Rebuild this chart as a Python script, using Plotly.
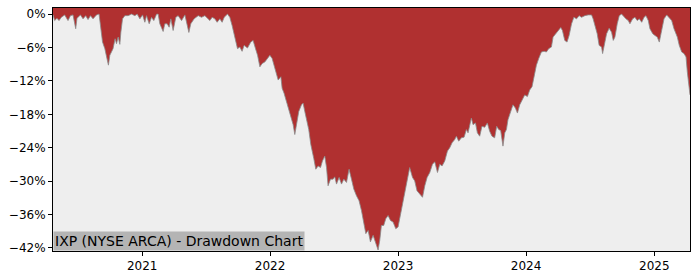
import pandas as pd
import plotly.graph_objects as go

# Drawdown series: decimal year, drawdown in percent
years = [
    2020.305, 2020.310, 2020.318, 2020.336, 2020.352, 2020.370, 2020.396, 2020.422, 2020.441, 2020.461,
    2020.482, 2020.492, 2020.519, 2020.539, 2020.560, 2020.578, 2020.597, 2020.617, 2020.644, 2020.664,
    2020.675, 2020.691, 2020.709, 2020.727, 2020.737, 2020.748, 2020.763, 2020.773, 2020.789, 2020.800,
    2020.813, 2020.826, 2020.834, 2020.847, 2020.865, 2020.891, 2020.917, 2020.943, 2020.961, 2020.982,
    2021.003, 2021.021, 2021.034, 2021.055, 2021.073, 2021.091, 2021.113, 2021.125, 2021.138, 2021.152,
    2021.164, 2021.177, 2021.195, 2021.211, 2021.224, 2021.242, 2021.263, 2021.281, 2021.308, 2021.334,
    2021.347, 2021.365, 2021.380, 2021.406, 2021.438, 2021.464, 2021.490, 2021.516, 2021.529, 2021.547,
    2021.568, 2021.586, 2021.607, 2021.625, 2021.641, 2021.667, 2021.685, 2021.703, 2021.724, 2021.745,
    2021.763, 2021.781, 2021.797, 2021.823, 2021.849, 2021.867, 2021.886, 2021.902, 2021.920, 2021.938,
    2021.959, 2021.980, 2021.998, 2022.016, 2022.031, 2022.050, 2022.063, 2022.084, 2022.094, 2022.109,
    2022.128, 2022.146, 2022.162, 2022.180, 2022.193, 2022.206, 2022.224, 2022.245, 2022.258, 2022.271,
    2022.284, 2022.302, 2022.318, 2022.331, 2022.341, 2022.357, 2022.375, 2022.394, 2022.409, 2022.427,
    2022.441, 2022.453, 2022.472, 2022.492, 2022.505, 2022.519, 2022.539, 2022.558, 2022.576, 2022.597,
    2022.617, 2022.636, 2022.654, 2022.675, 2022.695, 2022.714, 2022.732, 2022.748, 2022.766, 2022.784,
    2022.805, 2022.823, 2022.844, 2022.857, 2022.870, 2022.888, 2022.904, 2022.922, 2022.941, 2022.961,
    2022.982, 2023.000, 2023.013, 2023.034, 2023.052, 2023.070, 2023.091, 2023.113, 2023.130, 2023.148,
    2023.170, 2023.191, 2023.209, 2023.227, 2023.248, 2023.269, 2023.287, 2023.308, 2023.326, 2023.344,
    2023.365, 2023.386, 2023.404, 2023.422, 2023.443, 2023.456, 2023.474, 2023.495, 2023.516, 2023.534,
    2023.547, 2023.560, 2023.573, 2023.586, 2023.605, 2023.620, 2023.638, 2023.656, 2023.677, 2023.698,
    2023.716, 2023.734, 2023.755, 2023.771, 2023.787, 2023.802, 2023.820, 2023.834, 2023.847, 2023.859,
    2023.880, 2023.898, 2023.917, 2023.933, 2023.951, 2023.969, 2023.990, 2024.011, 2024.029, 2024.047,
    2024.063, 2024.081, 2024.099, 2024.120, 2024.141, 2024.159, 2024.177, 2024.198, 2024.211, 2024.230,
    2024.250, 2024.271, 2024.284, 2024.302, 2024.320, 2024.336, 2024.355, 2024.373, 2024.394, 2024.414,
    2024.433, 2024.459, 2024.484, 2024.511, 2024.523, 2024.537, 2024.555, 2024.570, 2024.589, 2024.597,
    2024.615, 2024.628, 2024.648, 2024.667, 2024.680, 2024.693, 2024.711, 2024.727, 2024.745, 2024.763,
    2024.779, 2024.797, 2024.810, 2024.831, 2024.849, 2024.867, 2024.883, 2024.902, 2024.920, 2024.935,
    2024.953, 2024.966, 2024.988, 2025.005, 2025.023, 2025.039, 2025.058, 2025.076, 2025.097, 2025.117,
    2025.136, 2025.154, 2025.170, 2025.180, 2025.195, 2025.214, 2025.232, 2025.248, 2025.258, 2025.269,
    2025.279,
]
drawdown = [
    -0.10, -0.57, -1.16, -0.75, -1.16, -0.57, -0.14, -1.16, -0.27, -0.14,
    -2.63, -0.75, -0.14, -0.85, -0.27, -0.98, -0.27, -0.85, -0.14, 0.00,
    -2.05, -5.02, -6.20, -8.28, -9.17, -7.39, -6.50, -6.20, -4.42, -5.31,
    -4.13, -5.43, -3.24, -0.85, -0.27, -0.27, 0.00, -0.27, 0.00, -0.85,
    -0.14, -1.46, -0.27, -1.74, -0.57, -1.16, 0.00, 0.00, -1.74, -2.35,
    -3.12, -1.74, -1.74, -2.35, -0.85, -2.94, -0.57, -0.27, -1.16, -0.14,
    -1.51, -3.29, -1.74, -0.85, -0.27, -0.57, -0.27, -0.75, -1.16, -0.57,
    -0.85, -1.46, -0.85, -1.46, -0.57, 0.00, -0.57, -2.05, -4.42, -6.20,
    -5.91, -6.68, -5.61, -6.09, -5.02, -4.72, -6.20, -7.39, -9.47, -8.87,
    -8.58, -7.98, -7.39, -7.98, -9.17, -10.36, -11.84, -11.25, -13.32, -14.21,
    -15.70, -17.48, -18.66, -19.85, -21.63, -19.55, -17.48, -16.29, -15.99, -17.48,
    -18.96, -20.74, -23.41, -25.19, -25.90, -27.86, -27.27, -27.56, -26.38, -25.49,
    -27.56, -30.83, -29.64, -29.64, -29.23, -30.53, -29.34, -30.53, -29.64, -30.23,
    -27.86, -29.64, -31.42, -32.62, -33.51, -35.29, -37.65, -39.43, -38.85, -40.91,
    -39.74, -40.91, -42.37, -40.63, -37.96, -37.96, -36.76, -36.18, -37.07, -37.35,
    -38.54, -38.24, -36.76, -34.09, -31.73, -29.64, -27.56, -29.34, -29.95, -31.73,
    -32.31, -32.90, -30.83, -29.34, -28.45, -26.97, -26.53, -28.45, -26.97, -27.27,
    -26.38, -24.60, -24.00, -23.11, -22.52, -21.93, -22.82, -22.22, -22.11, -20.74,
    -21.33, -19.85, -18.66, -19.85, -19.55, -21.33, -21.93, -20.15, -20.33, -19.55,
    -21.04, -21.93, -22.22, -20.15, -20.74, -20.92, -23.71, -21.33, -20.74, -18.96,
    -17.48, -16.29, -16.88, -17.77, -16.29, -15.40, -14.51, -14.81, -13.62, -13.03,
    -11.25, -9.17, -7.98, -6.80, -6.68, -6.80, -6.20, -5.91, -4.13, -3.53,
    -2.94, -2.40, -2.94, -4.72, -5.02, -3.83, -1.74, -0.57, -0.85, -0.27,
    -0.57, -0.27, -0.14, -0.14, -0.85, -2.05, -3.53, -5.61, -5.91, -7.09,
    -5.02, -3.53, -2.53, -3.24, -4.72, -4.13, -1.74, -0.27, 0.00, -0.57,
    -0.85, -1.16, -1.74, -0.85, -0.57, -1.16, -0.85, -1.46, -0.57, -0.27,
    -1.16, -2.63, -3.53, -3.83, -4.13, -5.02, -2.94, -0.85, -0.14, -0.57,
    -1.16, -2.63, -3.53, -4.13, -5.61, -6.80, -7.09, -7.69, -10.36, -12.73,
    -14.51,
]
y_ticks = [0, -6, -12, -18, -24, -30, -36, -42]
y_tick_labels = ["0%", "\u22126%", "\u221212%", "\u221218%", "\u221224%", "\u221230%", "\u221236%", "\u221242%"]
x_tick_years = [2021, 2022, 2023, 2024, 2025]
title_text = "IXP (NYSE ARCA) - Drawdown Chart"


def to_date(yr):
    y0 = int(yr)
    start = pd.Timestamp(year=y0, month=1, day=1)
    end = pd.Timestamp(year=y0 + 1, month=1, day=1)
    return start + (end - start) * (yr - y0)


dates = [to_date(v) for v in years]
Y_TOP = 1.1
Y_BOTTOM = -42.55

fig = go.Figure()
fig.add_trace(go.Scatter(
    x=dates, y=[Y_TOP] * len(dates), mode="lines",
    line=dict(width=0, color="rgba(0,0,0,0)"), hoverinfo="skip", showlegend=False,
))
fig.add_trace(go.Scatter(
    x=dates, y=drawdown, mode="lines",
    line=dict(width=0.8, color="#8a8a8a"),
    fill="tonexty", fillcolor="#B03030", showlegend=False,
))

fig.update_layout(
    width=700, height=280,
    margin=dict(l=53, r=10, t=7, b=28),
    paper_bgcolor="white", plot_bgcolor="#EEEEEE",
    font=dict(family="DejaVu Sans", size=12, color="black"),
    showlegend=False,
)
fig.update_xaxes(
    range=[dates[0], dates[-1]],
    tickvals=[pd.Timestamp(year=y, month=1, day=1) for y in x_tick_years],
    ticktext=[str(y) for y in x_tick_years],
    showgrid=False, zeroline=False,
    showline=True, linecolor="black", linewidth=1, mirror=True,
    ticks="outside", ticklen=4, tickcolor="black",
)
fig.update_yaxes(
    range=[Y_BOTTOM, Y_TOP],
    tickvals=y_ticks, ticktext=y_tick_labels,
    showgrid=False, zeroline=False,
    showline=True, linecolor="black", linewidth=1, mirror=True,
    ticks="outside", ticklen=4, tickcolor="black",
)
fig.add_annotation(
    xref="paper", yref="paper", x=0, y=0, xanchor="left", yanchor="bottom",
    text=title_text, showarrow=False,
    font=dict(family="DejaVu Sans", size=14, color="black"),
    bgcolor="#B4B4B4", borderpad=1,
)

fig.write_html("out.html")
